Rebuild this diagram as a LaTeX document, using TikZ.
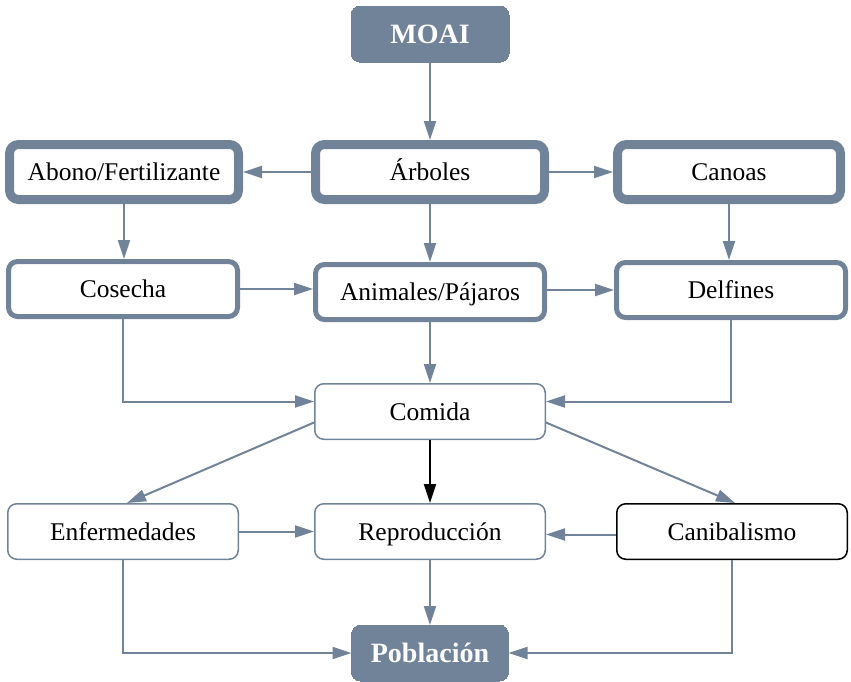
\documentclass[tikz,border=0pt]{standalone}
\usepackage{fontspec}
\setmainfont{Liberation Serif}
\usetikzlibrary{arrows.meta,calc}
\definecolor{slate}{RGB}{113,131,153}
\tikzset{
  base/.style={rounded corners=9pt, inner sep=0pt, align=center, font=\fontsize{25.5}{28}\selectfont, text=black, fill=white, text height=20pt, text depth=3pt},
  head/.style={base, fill=slate, draw=slate, line width=0pt, text=white, font=\fontsize{28}{30}\selectfont\bfseries, text height=21pt, text depth=3pt},
  thick1/.style={base, draw=slate, line width=9pt, minimum height=55pt},
  thick2/.style={base, draw=slate, line width=5pt, minimum height=55pt, minimum width=229pt},
  thin/.style={base, draw=slate, line width=1.5pt, minimum height=55.5pt, minimum width=230.5pt},
  thinblk/.style={base, draw=black, line width=1.5pt, minimum height=55.5pt, minimum width=230.5pt},
  conn/.style={draw=slate, line width=2pt, -{Triangle[length=19pt,width=12pt]}},
  connb/.style={draw=black, line width=2pt, -{Triangle[length=19pt,width=12pt]}},
}
\begin{document}
\begin{tikzpicture}[x=1pt,y=-1pt]
\useasboundingbox (0,0) rectangle (851,681);
\node[head, minimum width=158pt, minimum height=56pt] (moai) at (430,34) {MOAI};
\node[thick1, minimum width=229pt] (abono) at (124,172) {Abono/Fertilizante};
\node[thick1, minimum width=229pt] (arboles) at (430,172) {Árboles};
\node[thick1, minimum width=223pt] (canoas) at (729,172) {Canoas};
\node[thick2] (cosecha) at (123,289) {Cosecha};
\node[thick2] (animales) at (430,292) {Animales/Pájaros};
\node[thick2] (delfines) at (731,290) {Delfines};
\node[thin] (comida) at (430,411.5) {Comida};
\node[thin] (enf) at (123,531.5) {Enfermedades};
\node[thin] (rep) at (430,531.5) {Reproducción};
\node[thinblk] (can) at (732,531.5) {Canibalismo};
\node[head, minimum width=157pt, minimum height=56pt] (pob) at (430,653) {Población};

\draw[conn] (moai) -- (arboles);
\draw[conn] (arboles.west) -- (abono.east);
\draw[conn] (arboles.east) -- (canoas.west);
\draw[conn] (abono) -- (abono |- cosecha.north);
\draw[conn] (arboles) -- (animales);
\draw[conn] (canoas) -- (canoas |- delfines.north);
\draw[conn] (cosecha.east) -- (cosecha.east -| animales.west);
\draw[conn] (animales.east |- delfines.west) -- (delfines.west);
\draw[conn] (cosecha.south) |- ([yshift=10pt]comida.west);
\draw[conn] (delfines.south) |- ([yshift=10pt]comida.east);
\draw[conn] (animales) -- (comida);
\draw[conn] ([yshift=-11pt]comida.west) -- ([xshift=4pt]enf.north);
\draw[connb] (comida) -- (rep);
\draw[conn] ([yshift=-11pt]comida.east) -- ([xshift=3pt]can.north);
\draw[conn] (enf.east) -- (rep.west);
\draw[conn] ([yshift=-3pt]can.west) -- ([yshift=-3pt]rep.east);
\draw[conn] (rep) -- (pob);
\draw[conn] (enf.south) |- (pob.west);
\draw[conn] (can.south) |- (pob.east);
\end{tikzpicture}
\end{document}
